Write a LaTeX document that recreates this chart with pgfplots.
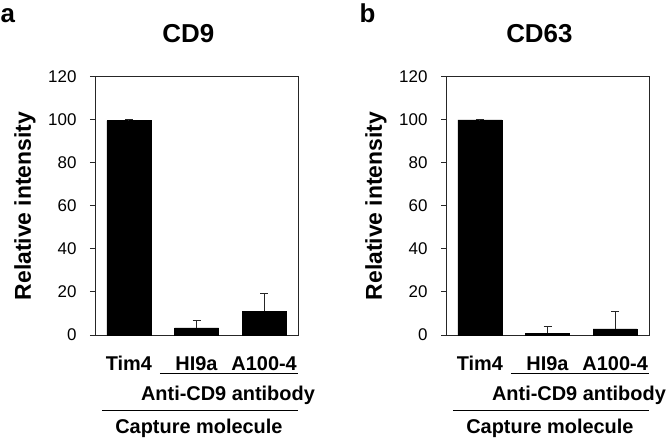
\documentclass[border=0pt]{standalone}
\usepackage{fontspec}
\setmainfont{Liberation Sans}
\usepackage{pgfplots}
\pgfplotsset{compat=1.18}

\pgfplotsset{panel/.style={
  scale only axis, width=203bp, height=258bp,
  xmin=-0.5, xmax=2.5, ymin=0, ymax=120,
  xtick={0,1,2}, xticklabels={Tim4,HI9a,A100-4},
  ytick={0,20,...,120}, yticklabels={0,20,40,60,80,100,120},
  ytick pos=left, tick align=outside,
  major tick length=5bp,
  x tick style={draw=none},
  axis line style={line width=1bp, black!85},
  y tick style={line width=1bp, black!85},
  yticklabel style={font=\fontsize{17}{20}\selectfont, anchor=east, xshift=-10bp},
  xticklabel style={font=\fontsize{20}{24}\selectfont\bfseries, anchor=base, yshift=-30bp},
  ylabel={Relative intensity},
  every axis y label/.style={at={(axis description cs:-0.345,0.5)}, rotate=90, anchor=center,
    font=\fontsize{23}{27}\selectfont\bfseries},
  every axis title/.style={at={(axis description cs:0.46,1.167)}, anchor=center,
    font=\fontsize{26}{30}\selectfont\bfseries},
  clip=false,
  ybar, bar width=44bp,
}}

\begin{document}
\begin{tikzpicture}
\path[use as bounding box] (0,0) rectangle (668bp,439bp);

% panel a
\begin{axis}[panel, at={(95bp,104bp)}, anchor=south west, title={CD9}]
\addplot[ybar, fill=black, draw=black,
  error bars/.cd, y dir=plus, y explicit,
  error bar style={line width=1bp, black!85},
  error mark options={rotate=90, mark size=4bp, line width=1bp, black!85}]
  coordinates {(0,99.7) +- (0,0.3) (1,3.3) +- (0,3.4) (2,11.0) +- (0,8.4)};
\draw[line width=1bp] (axis description cs:0.32,-0.151) -- (axis description cs:1,-0.151);
\draw[line width=1bp] (axis description cs:0.034,-0.291) -- (axis description cs:1,-0.291);
\node[anchor=base, font=\fontsize{20}{24}\selectfont\bfseries] at (axis description cs:0.655,-0.252) {Anti-CD9 antibody};
\node[anchor=base, font=\fontsize{20}{24}\selectfont\bfseries] at (axis description cs:0.512,-0.381) {Capture molecule};
\node[anchor=base, font=\fontsize{26}{30}\selectfont\bfseries] at (axis description cs:-0.43,1.213) {a};
\end{axis}

% panel b
\begin{axis}[panel, at={(446bp,104bp)}, anchor=south west, title={CD63}]
\addplot[ybar, fill=black, draw=black,
  error bars/.cd, y dir=plus, y explicit,
  error bar style={line width=1bp, black!85},
  error mark options={rotate=90, mark size=4bp, line width=1bp, black!85}]
  coordinates {(0,100.0) +- (0,0.1) (1,0.7) +- (0,3.2) (2,2.8) +- (0,8.2)};
\draw[line width=1bp] (axis description cs:0.32,-0.151) -- (axis description cs:1,-0.151);
\draw[line width=1bp] (axis description cs:0.034,-0.291) -- (axis description cs:1,-0.291);
\node[anchor=base, font=\fontsize{20}{24}\selectfont\bfseries] at (axis description cs:0.655,-0.252) {Anti-CD9 antibody};
\node[anchor=base, font=\fontsize{20}{24}\selectfont\bfseries] at (axis description cs:0.512,-0.381) {Capture molecule};
\node[anchor=base, font=\fontsize{26}{30}\selectfont\bfseries] at (axis description cs:-0.387,1.213) {b};
\end{axis}
\end{tikzpicture}
\end{document}
